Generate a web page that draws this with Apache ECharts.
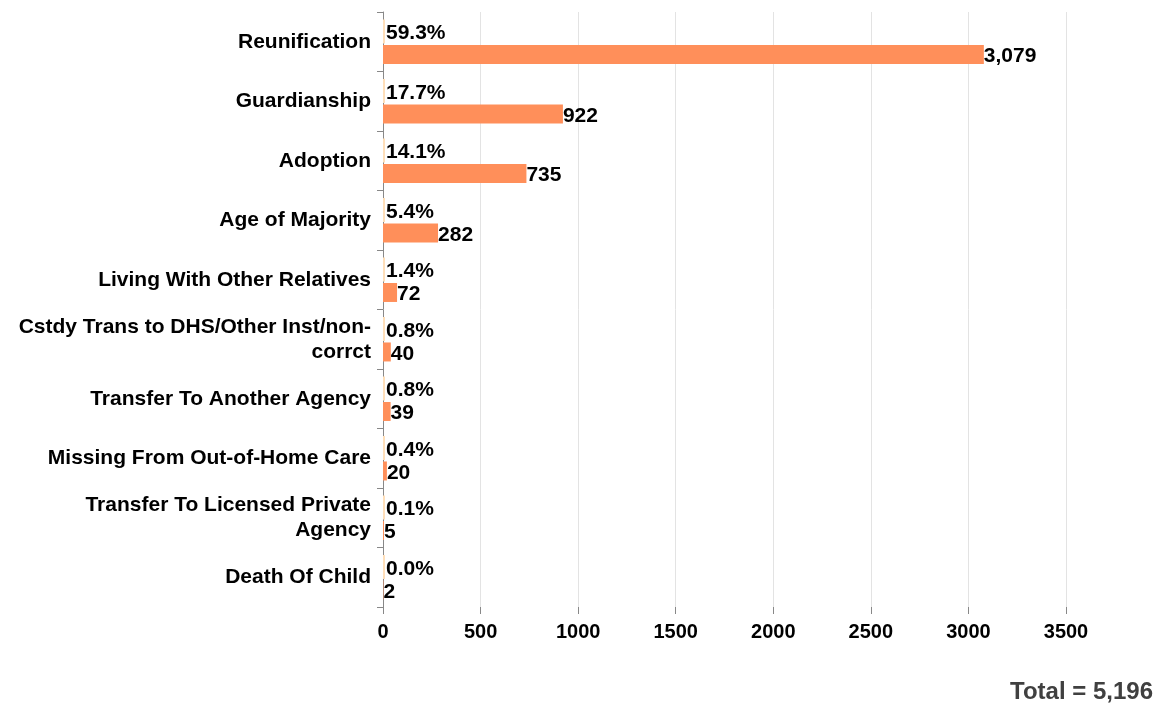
<!DOCTYPE html>
<html>
<head>
<meta charset="utf-8">
<script src="https://cdn.jsdelivr.net/npm/echarts@6/dist/echarts.min.js"></script>
<style>
  html, body { margin: 0; padding: 0; background: #fff; }
  #chart { width: 1163px; height: 704px; }
</style>
</head>
<body>
<div id="chart"></div>
<script>
const categories = [
  'Reunification',
  'Guardianship',
  'Adoption',
  'Age of Majority',
  'Living With Other Relatives',
  'Cstdy Trans to DHS/Other Inst/non-\ncorrct',
  'Transfer To Another Agency',
  'Missing From Out-of-Home Care',
  'Transfer To Licensed Private\nAgency',
  'Death Of Child'
]
const counts = [3079, 922, 735, 282, 72, 40, 39, 20, 5, 2]
const percents = [59.3, 17.7, 14.1, 5.4, 1.4, 0.8, 0.8, 0.4, 0.1, 0.0]
const xTicks = { min: 0, max: 3500, interval: 500 }
const totalText = 'Total = 5,196'

const font = 'Liberation Sans, Arial, sans-serif'

const chart = echarts.init(document.getElementById('chart'), null, { renderer: 'canvas' })

chart.setOption({
  animation: false,
  textStyle: { fontFamily: font },
  grid: { left: 383, right: 97, top: 12, bottom: 97 },
  xAxis: {
    type: 'value',
    min: xTicks.min,
    max: xTicks.max,
    interval: xTicks.interval,
    axisLine: { show: false },
    axisTick: { show: true, length: 7, lineStyle: { color: '#888' } },
    splitLine: { show: true, lineStyle: { color: '#e3e3e3' } },
    axisLabel: {
      color: '#000', fontSize: 20, fontWeight: 'bold', margin: 15,
      formatter: v => String(v)
    }
  },
  yAxis: {
    type: 'category',
    data: categories,
    inverse: true,
    axisLine: { show: true, lineStyle: { color: '#888' } },
    axisTick: { show: true, length: 6, lineStyle: { color: '#888' } },
    axisLabel: {
      color: '#000', fontSize: 21, fontWeight: 'bold', margin: 12,
      lineHeight: 25, align: 'right'
    }
  },
  series: [
    {
      name: 'Percent',
      type: 'bar',
      data: percents.map(p => p / 100),
      barWidth: 24,
      barGap: '6%',
      barMinHeight: 2,
      itemStyle: { color: '#ffdfba' },
      label: {
        show: true, position: 'right', distance: 1, offset: [0, 2],
        color: '#000', fontSize: 21, fontWeight: 'bold',
        formatter: p => percents[p.dataIndex].toFixed(1) + '%'
      }
    },
    {
      name: 'Count',
      type: 'bar',
      data: counts,
      barWidth: 19,
      itemStyle: { color: '#ff8f5a' },
      label: {
        show: true, position: 'right', distance: 0, offset: [0, 2],
        color: '#000', fontSize: 21, fontWeight: 'bold',
        formatter: p => p.value.toLocaleString('en-US')
      }
    }
  ],
  graphic: [{
    type: 'text',
    right: 10,
    top: 680,
    style: { text: totalText, fill: '#404040', font: 'bold 24px ' + font }
  }]
})
</script>
</body>
</html>
